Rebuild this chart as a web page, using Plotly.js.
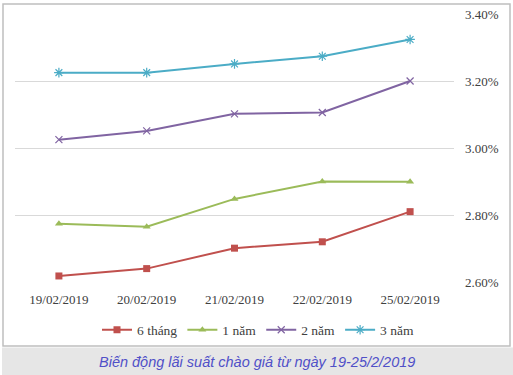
<!DOCTYPE html>
<html>
<head>
<meta charset="utf-8">
<script src="https://cdn.plot.ly/plotly-3.0.1.min.js"></script>
<style>
html,body{margin:0;padding:0;background:#fff;}
#chart{width:513px;height:375px;}
</style>
</head>
<body>
<div id="chart"></div>
<script>
const dates = ["19/02/2019", "20/02/2019", "21/02/2019", "22/02/2019", "25/02/2019"];
const sixMonths = [2.618, 2.640, 2.701, 2.720, 2.810];
const oneYear = [2.774, 2.765, 2.848, 2.900, 2.899];
const twoYears = [3.025, 3.051, 3.102, 3.106, 3.200];
const threeYears = [3.225, 3.225, 3.251, 3.274, 3.324];
const seriesNames = ["6 tháng", "1 năm", "2 năm", "3 năm"];
const yTicks = [2.6, 2.8, 3.0, 3.2, 3.4];
const caption = "Biến động lãi suất chào giá từ ngày 19-25/2/2019";

const SERIF = "Liberation Serif";
const colors = ["#c0504d", "#9bbb59", "#8064a2", "#4bacc6"];
const symbols = ["square", "triangle-up", "x-thin-open", "asterisk-open"];
const sizes = [7, 7, 7, 8];
const data = [sixMonths, oneYear, twoYears, threeYears].map((vals, i) => ({
  type: "scatter",
  mode: "lines+markers",
  x: dates,
  y: vals,
  name: seriesNames[i],
  line: {color: colors[i], width: 2},
  marker: {
    symbol: symbols[i],
    size: sizes[i],
    color: colors[i],
    line: {color: colors[i], width: (i >= 2 ? 1.2 : 0)}
  },
  cliponaxis: false
}));

const L = 15, R = 454, T = 14, B = 282;
const W = R - L, H = B - T;
const px = v => (v - L) / W;
const py = v => (B - v) / H;

const layout = {
  width: 513,
  height: 375,
  margin: {l: L, r: 513 - R, t: T, b: 375 - B, pad: 0},
  paper_bgcolor: "#ffffff",
  plot_bgcolor: "rgba(0,0,0,0)",
  font: {family: SERIF, size: 13, color: "#404040"},
  showlegend: true,
  legend: {
    orientation: "h",
    x: px(258), xanchor: "center",
    y: py(330), yanchor: "middle",
    font: {family: SERIF, size: 13.5, color: "#404040"},
    itemwidth: 30,
    tracegroupgap: 0,
    bgcolor: "rgba(0,0,0,0)"
  },
  xaxis: {
    type: "category",
    range: [-0.5, 4.5],
    showgrid: false,
    zeroline: false,
    showline: false,
    ticks: "",
    tickfont: {family: SERIF, size: 13, color: "#404040"},
    ticklabelstandoff: 8,
    fixedrange: true
  },
  yaxis: {
    side: "right",
    range: [2.6, 3.4],
    tickvals: yTicks,
    ticktext: yTicks.map(v => v.toFixed(2) + "%"),
    showgrid: true,
    gridcolor: "#d9d9d9",
    gridwidth: 1,
    zeroline: false,
    showline: false,
    ticks: "",
    tickfont: {family: SERIF, size: 13, color: "#404040"},
    ticklabelstandoff: 10,
    fixedrange: true
  },
  shapes: [
    {type: "rect", xref: "paper", yref: "paper", layer: "below",
     x0: px(3), x1: px(510), y0: py(346), y1: py(4),
     line: {color: "#bfbfbf", width: 1.5}, fillcolor: "rgba(0,0,0,0)"},
    {type: "rect", xref: "paper", yref: "paper", layer: "below",
     x0: px(2), x1: px(513), y0: py(375), y1: py(347.5),
     line: {width: 0}, fillcolor: "#e6e6e6"}
  ],
  annotations: [
    {xref: "paper", yref: "paper", x: px(257), y: py(362), xanchor: "center", yanchor: "middle",
     text: "<i>" + caption + "</i>", showarrow: false,
     font: {family: "Liberation Sans", size: 14.5, color: "#5050c8"}}
  ]
};

Plotly.newPlot("chart", data, layout, {displayModeBar: false, staticPlot: true});
</script>
</body>
</html>
